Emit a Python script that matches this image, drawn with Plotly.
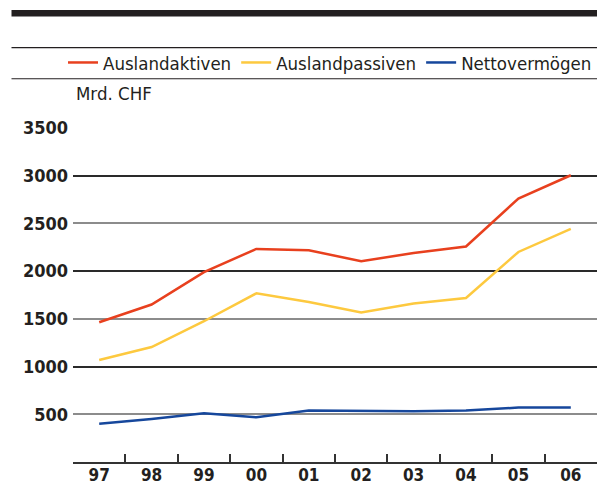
import plotly.graph_objects as go

years = ["97", "98", "99", "00", "01", "02", "03", "04", "05", "06"]
aktiven = [1465, 1650, 1990, 2233, 2219, 2104, 2190, 2258, 2761, 3005]
passiven = [1069, 1205, 1475, 1768, 1677, 1566, 1660, 1719, 2201, 2442]
netto = [402, 451, 510, 468, 540, 538, 532, 540, 570, 570]

names = ["Auslandaktiven", "Auslandpassiven", "Nettovermögen"]
colors = ["#e8401e", "#fdc93f", "#16479c"]

FONT = "DejaVu Sans Condensed, Liberation Sans Narrow, DejaVu Sans, sans-serif"

PT, PB, PL = 128.0, 461.7, 73.0   # plot top/bottom/left in px
PH = PB - PT
PW = 597 - PL


def py(px):
    return (PB - px) / PH


def pxx(px):
    return (px - PL) / PW


fig = go.Figure()
fig.add_trace(go.Scatter(x=years, y=aktiven, name=names[0], mode="lines",
                         line=dict(color=colors[0], width=2.5), yaxis="y"))
fig.add_trace(go.Scatter(x=years, y=passiven, name=names[1], mode="lines",
                         line=dict(color=colors[1], width=2.5), yaxis="y"))
fig.add_trace(go.Scatter(x=years, y=netto, name=names[2], mode="lines",
                         line=dict(color=colors[2], width=2.5), yaxis="y2"))

tickfont = dict(family=FONT, size=18, color="#231f20", weight="bold")
xtickfont = dict(family=FONT, size=17, color="#231f20", weight="bold")

fig.update_layout(
    width=597, height=486,
    margin=dict(l=PL, r=0, t=PT, b=486 - PB, autoexpand=False),
    paper_bgcolor="white", plot_bgcolor="white",
    showlegend=True,
    legend=dict(orientation="h", x=pxx(63), xanchor="left", y=py(63), yanchor="middle",
                font=dict(family=FONT, size=18.5, color="#231f20"),
                bgcolor="rgba(0,0,0,0)", itemwidth=30, tracegroupgap=0),
    xaxis=dict(type="category", tickson="boundaries", ticks="inside", ticklen=8,
               tickwidth=1.5, tickcolor="#333", showline=True, linecolor="#333",
               linewidth=1.5, showgrid=False, tickfont=xtickfont,
               ticklabelstandoff=-3, range=[-0.5, 9.5], fixedrange=True),
    yaxis=dict(range=[0, 3500], tickvals=[500, 1500, 2500, 3500],
               showgrid=True, gridcolor="#8c8c8c", gridwidth=1.5,
               zeroline=False, showline=False, ticks="", tickfont=tickfont,
               ticklabelstandoff=4, fixedrange=True),
    yaxis2=dict(range=[0, 3500], overlaying="y", side="left",
                tickvals=[1000, 2000, 3000], showgrid=True, gridcolor="#2a2a2a",
                gridwidth=1.5, zeroline=False, showline=False, ticks="",
                tickfont=tickfont, ticklabelstandoff=4, fixedrange=True),
    shapes=[
        dict(type="rect", xref="paper", yref="paper", x0=pxx(11.5), x1=1.01,
             y0=py(16.5), y1=py(10), fillcolor="#231f20", line=dict(width=0)),
        dict(type="line", xref="paper", yref="paper", x0=pxx(11.5), x1=1.01,
             y0=py(47.7), y1=py(47.7), line=dict(color="#231f20", width=1.2)),
        dict(type="line", xref="paper", yref="paper", x0=pxx(11.5), x1=1.01,
             y0=py(78.8), y1=py(78.8), line=dict(color="#231f20", width=1.2)),
    ],
    annotations=[
        dict(text="Mrd. CHF", xref="paper", yref="paper", x=pxx(74), xanchor="left",
             y=py(94), yanchor="middle", showarrow=False,
             font=dict(family=FONT, size=18.5, color="#231f20")),
    ],
)

fig.write_html("out.html", config={"displayModeBar": False},
               post_script="document.body.style.margin='0px';")
